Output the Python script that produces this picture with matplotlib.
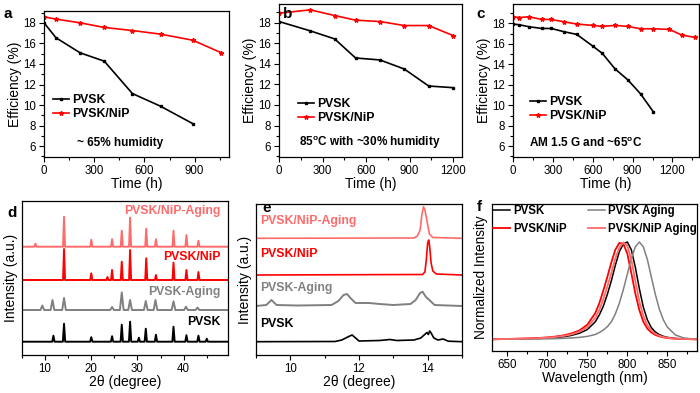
import matplotlib
matplotlib.use("Agg")
import matplotlib.pyplot as plt
from matplotlib.ticker import MultipleLocator, NullLocator

plt.rcParams['font.family'] = ['Liberation Sans', 'DejaVu Sans']
plt.rcParams['mathtext.fontset'] = 'custom'
plt.rcParams['mathtext.rm'] = 'Liberation Sans'
plt.rcParams['mathtext.bf'] = 'Liberation Sans:bold'

# ---------------- data ----------------
# panel a (~65% humidity)
a_t_pvsk = [0, 72, 216, 360, 528, 696, 888]
a_e_pvsk = [18.0, 16.54, 15.08, 14.27, 11.12, 9.89, 8.2]
a_t_nip = [0, 72, 216, 360, 528, 696, 888, 1056]
a_e_nip = [18.58, 18.36, 18.0, 17.55, 17.25, 16.9, 16.31, 15.11]
# panel b (85 C, ~30% humidity)
b_t = [0, 216, 384, 528, 696, 864, 1032, 1200]
b_e_pvsk = [18.1, 17.19, 16.41, 14.56, 14.37, 13.49, 11.84, 11.68]
b_e_nip = [18.91, 19.23, 18.68, 18.23, 18.1, 17.71, 17.71, 16.74]
# panel c (AM 1.5 G, ~65 C)
c_t_pvsk = [0, 48, 120, 216, 288, 384, 480, 600, 672, 768, 864, 960, 1056]
c_e_pvsk = [17.94, 17.87, 17.68, 17.51, 17.51, 17.19, 16.93, 15.79, 15.08, 13.56, 12.49, 11.12, 9.37]
c_t_nip = [0, 48, 120, 216, 288, 384, 480, 600, 672, 768, 864, 960, 1056, 1176, 1272, 1368]
c_e_nip = [18.65, 18.58, 18.65, 18.39, 18.39, 18.16, 17.94, 17.81, 17.71, 17.81, 17.71, 17.48,
           17.48, 17.42, 16.86, 16.64]

# panel d: XRD peaks (2theta, height above baseline), baselines (a.u.)
d_names = ['PVSK', 'PVSK-Aging', 'PVSK/NiP', 'PVSK/NiP-Aging']
d_base = [13.3, 45.0, 75.0, 108.3]
d_pos = [
    [11.8, 14.1, 20.0, 24.5, 26.6, 28.4, 30.3, 31.8, 34.0, 37.8, 40.6, 43.2, 45.0],
    [9.4, 11.6, 14.1, 24.5, 26.6, 28.4, 31.8, 33.9, 37.8, 40.5, 43.0],
    [14.1, 20.0, 23.5, 24.5, 26.6, 28.4, 31.9, 34.0, 37.8, 40.6, 43.2],
    [7.9, 14.1, 20.0, 24.5, 26.6, 28.4, 31.9, 34.0, 37.8, 40.6, 43.2],
]
d_hts = [
    [6.0, 18.0, 4.5, 5.5, 17.0, 20.0, 4.0, 13.0, 7.0, 15.0, 6.5, 6.0, 3.0],
    [4.5, 10.0, 12.0, 3.0, 17.5, 10.0, 9.0, 10.0, 8.7, 3.3, 2.5],
    [31.0, 6.7, 3.0, 10.0, 18.3, 30.0, 21.7, 5.0, 17.3, 10.0, 8.0],
    [3.0, 30.0, 7.0, 7.5, 16.0, 29.0, 18.0, 7.5, 16.0, 11.5, 6.0],
]
d_width = [0.25, 0.4, 0.22, 0.22]

# panel e: zoomed XRD traces
e_x_pvsk = [9, 11.3, 11.5, 11.7, 11.8, 11.9, 12.0, 12.6, 12.9, 13.1, 13.6, 13.8, 13.93, 13.98, 14.02,
            14.06, 14.1, 14.18, 14.3, 14.45, 14.6, 15]
e_y_pvsk = [13.3, 13.5, 15, 18.5, 20, 17, 14, 14.5, 15.5, 14.5, 15, 17, 21, 22.5, 20.5,
            24, 22, 17, 15, 16, 13.8, 13.3]
e_x_pa = [9, 9.3, 9.45, 9.6, 10.2, 11.2, 11.4, 11.55, 11.65, 11.75, 11.9, 12.3, 12.6, 13.0, 13.5,
          13.65, 13.78, 13.85, 13.95, 14.05, 14.2, 15]
e_y_pa = [49, 50, 55, 50, 49.5, 50, 54, 60, 61, 57, 52, 52, 51, 50, 51,
          55, 62, 63.3, 58, 55, 50, 49]
e_x_nip = [9, 13.85, 13.92, 13.96, 14.0, 14.03, 14.06, 14.1, 14.15, 14.25, 15]
e_y_nip = [80, 80.5, 83, 95, 112, 115, 108, 92, 84, 81, 80]
e_x_na = [9, 13.6, 13.7, 13.78, 13.83, 13.88, 13.92, 13.96, 14.0, 14.05, 14.15, 15]
e_y_na = [116.7, 117, 119, 125, 140, 148.3, 145, 138, 130, 121, 117.5, 116.7]

# panel f: normalized PL
f_wl = [630, 650, 670, 690, 700, 710, 720, 730, 740, 750, 760, 765, 770, 775, 780, 785, 790, 795,
        800, 805, 810, 815, 820, 825, 830, 835, 840, 845, 850, 860, 870, 880, 888]
f_pvsk = [0, .002, .005, .009, .013, .018, .026, .04, .062, .10, .18, .25, .34, .46, .60, .76, .90,
          .98, 1.0, .92, .74, .52, .33, .20, .12, .075, .048, .031, .02, .009, .004, .001, 0]
f_nip = [0, .004, .008, .014, .02, .028, .04, .06, .09, .15, .27, .37, .50, .64, .79, .92, .99,
         .98, .88, .68, .47, .30, .18, .11, .07, .045, .03, .02, .013, .006, .003, .001, 0]
f_pvsk_age = [0, .001, .002, .004, .005, .007, .010, .014, .020, .030, .05, .07, .095, .13, .18,
              .26, .37, .51, .67, .83, .95, 1.0, .95, .82, .64, .46, .31, .20, .125, .045, .015,
              .005, 0]
f_nip_age = [0, .003, .007, .012, .017, .024, .034, .05, .077, .125, .22, .30, .41, .54, .68, .83,
             .94, .995, .96, .82, .60, .39, .24, .145, .09, .057, .037, .024, .016, .007, .003,
             .001, 0]

BLACK = '#000000'
RED = '#ff0000'
GRAY = '#808080'
LRED = '#ff6b6b'

W, H = 700, 393
fig = plt.figure(figsize=(W / 100, H / 100), dpi=100)


def ax_px(l, r, t, b):
    return fig.add_axes([l / W, 1 - b / H, (r - l) / W, (b - t) / H])


def style(ax):
    ax.tick_params(which='both', direction='out', top=False, right=False, labelsize=8.3,
                   pad=2)
    ax.tick_params(which='major', length=3.5, width=0.8)
    ax.tick_params(which='minor', length=2, width=0.8)
    for s in ax.spines.values():
        s.set_linewidth(0.9)


def eff_panel(ax, t1, e1, t2, e2, xmax, ymax, note, nx, letter, lx, ly, lab_x):
    ax.plot(t1, e1, color=BLACK, lw=1.2, marker='s', ms=2.0, label='PVSK')
    ax.plot(t2, e2, color=RED, lw=1.2, marker='*', ms=3.2, label='PVSK/NiP')
    ax.set_xlim(0, xmax)
    ax.set_ylim(4.95, ymax)
    ax.xaxis.set_major_locator(MultipleLocator(300))
    ax.xaxis.set_minor_locator(MultipleLocator(150))
    ax.yaxis.set_minor_locator(MultipleLocator(1))
    ax.set_yticks([6, 8, 10, 12, 14, 16, 18])
    style(ax)
    ax.set_xlabel('Time (h)', fontsize=10, labelpad=0)
    ax.set_ylabel('Efficiency (%)', fontsize=10, labelpad=1)
    ax.legend(loc='upper left', bbox_to_anchor=lx, frameon=False,
              handlelength=1.3, handletextpad=0.3, labelspacing=0.2, borderpad=0,
              borderaxespad=0, prop={'weight': 'bold', 'size': 8.8})
    ax.text(nx, 6.3, note, fontsize=8.5, fontweight='bold', ha='left', va='center')
    fig.text(lab_x / W, 1 - ly / H, letter, fontsize=11, fontweight='bold', ha='left',
             va='center')


# a
ax = ax_px(44, 229, 11, 157)
eff_panel(ax, a_t_pvsk, a_e_pvsk, a_t_nip, a_e_nip, 1105, 19.15, '~ 65% humidity',
          200, 'a', (0.049, 0.432), 14, 4)
# b
ax = ax_px(279, 462, 4, 157)
eff_panel(ax, b_t, b_e_pvsk, b_t, b_e_nip, 1262, 19.8,
          r'85$^\mathbf{o}$C with ~30% humidity', 140, 'b', (0.104, 0.386), 14, 283)
# c
ax = ax_px(513, 699, 4, 157)
eff_panel(ax, c_t_pvsk, c_e_pvsk, c_t_nip, c_e_nip, 1400, 19.9,
          r'AM 1.5 G and ~65$^\mathbf{o}$C', 120, 'c', (0.091, 0.40), 14, 476)

# d
ax = ax_px(22, 228, 201, 355)
d_cols = [BLACK, GRAY, RED, LRED]
for base, pos, hts, w, col in zip(d_base, d_pos, d_hts, d_width, d_cols):
    xs, ys = [5], [base]
    for p, h in zip(pos, hts):
        xs += [p - w, p, p + w]
        ys += [base, base + h, base]
    xs.append(50)
    ys.append(base)
    ax.plot(xs, ys, color=col, lw=1.4)
ax.set_xlim(5, 49.6)
ax.set_ylim(0, 154)
ax.xaxis.set_major_locator(MultipleLocator(10))
ax.xaxis.set_minor_locator(MultipleLocator(5))
ax.yaxis.set_major_locator(NullLocator())
style(ax)
ax.set_xlabel('2θ (degree)', fontsize=10, labelpad=0)
ax.set_ylabel('Intensity (a.u.)', fontsize=10, labelpad=3)
for name, col, yy in zip(d_names, d_cols, [33.3, 62.7, 98.3, 144]):
    ax.text(47.9, yy, name, color=col, fontsize=8.8, fontweight='bold', ha='right',
            va='center')
fig.text(7 / W, 1 - 213 / H, 'd', fontsize=11, fontweight='bold', ha='left', va='center')

# e
ax = ax_px(256, 462, 204, 355)
ax.plot(e_x_pvsk, e_y_pvsk, color=BLACK, lw=1.2)
ax.plot(e_x_pa, e_y_pa, color=GRAY, lw=1.4)
ax.plot(e_x_nip, e_y_nip, color=RED, lw=1.2)
ax.plot(e_x_na, e_y_na, color=LRED, lw=1.2)
ax.set_xlim(9, 15)
ax.set_ylim(0, 151)
ax.xaxis.set_major_locator(MultipleLocator(2))
ax.xaxis.set_minor_locator(MultipleLocator(1))
ax.yaxis.set_major_locator(NullLocator())
style(ax)
ax.set_xlabel('2θ (degree)', fontsize=10, labelpad=0)
ax.set_ylabel('Intensity (a.u.)', fontsize=10, labelpad=3)
for name, col, yy in zip(['PVSK', 'PVSK-Aging', 'PVSK/NiP', 'PVSK/NiP-Aging'],
                         [BLACK, GRAY, RED, LRED], [30.7, 67.3, 100.7, 134.0]):
    ax.text(9.12, yy, name, color=col, fontsize=8.8, fontweight='bold', ha='left',
            va='center')
fig.text(262 / W, 1 - 208 / H, 'e', fontsize=11, fontweight='bold', ha='left', va='center')

# f
ax = ax_px(492, 697, 204, 351)
h1, = ax.plot(f_wl, f_pvsk, color=BLACK, lw=1.1)
h2, = ax.plot(f_wl, f_nip, color=RED, lw=1.3)
h3, = ax.plot(f_wl, f_pvsk_age, color=GRAY, lw=1.1)
h4, = ax.plot(f_wl, f_nip_age, color=LRED, lw=1.3)
ax.set_xlim(631, 887)
ax.set_ylim(-0.12, 1.39)
ax.xaxis.set_major_locator(MultipleLocator(50))
ax.xaxis.set_minor_locator(MultipleLocator(25))
ax.yaxis.set_major_locator(NullLocator())
style(ax)
ax.set_xlabel('Wavelength (nm)', fontsize=10, labelpad=0)
ax.set_ylabel('Normalized Intensity', fontsize=9.8, labelpad=3)
leg_kw = dict(loc='upper left', frameon=False, handlelength=1.5, handletextpad=0.25,
              labelspacing=0.45, borderpad=0, borderaxespad=0,
              prop={'weight': 'bold', 'size': 8.3})
l1 = ax.legend([h1, h2], ['PVSK', 'PVSK/NiP'], bbox_to_anchor=(0.005, 0.99), **leg_kw)
ax.add_artist(l1)
ax.legend([h3, h4], ['PVSK Aging', 'PVSK/NiP Aging'], bbox_to_anchor=(0.468, 0.99), **leg_kw)
fig.text(477 / W, 1 - 207 / H, 'f', fontsize=11, fontweight='bold', ha='left', va='center')

fig.savefig('out.png', dpi=100)
